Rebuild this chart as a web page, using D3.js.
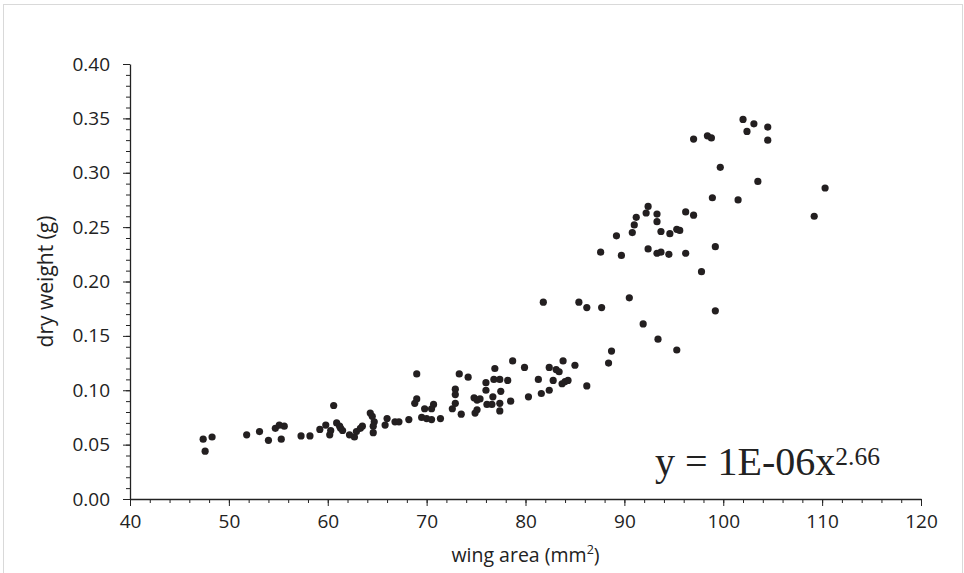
<!DOCTYPE html>
<html>
<head>
<meta charset="utf-8">
<script src="https://cdn.jsdelivr.net/npm/d3@7"></script>
<style>
  html, body { margin: 0; padding: 0; background: #fff; }
  svg { display: block; }
  .tick text { font-family: "Open Sans", sans-serif; font-size: 19px; fill: #222; }
  .axis-title { font-family: "Open Sans", sans-serif; fill: #222; }
  .equation { font-family: "Liberation Serif", "Times New Roman", serif; fill: #222; }
</style>
</head>
<body>
<div id="chart"></div>
<script>
// wing area (mm²) and dry weight (g)
const wingArea = [
  47.4, 48.3, 47.6, 51.8, 53.1, 54.0, 54.7, 55.1, 55.6, 55.3,
  57.3, 58.2, 59.2, 59.8, 60.3, 60.2, 60.6, 60.9, 61.2, 61.5,
  61.3, 62.2, 62.7, 62.9, 63.3, 63.5, 64.3, 64.5, 64.7, 64.6,
  64.6, 65.8, 66.0, 66.8, 67.2, 68.2,
  69.0, 69.0, 68.8, 69.8, 69.5, 70.0, 70.5, 70.7, 70.5, 71.4,
  72.9, 72.9, 72.9, 72.6, 73.3, 73.5, 74.2, 74.8, 75.1, 75.4,
  74.9, 75.1, 76.0, 76.0, 76.9, 76.8, 77.4, 78.2, 76.1, 76.6,
  76.7, 77.4, 77.5, 77.4, 78.5, 78.7, 79.9, 80.3, 81.3, 81.6,
  82.4, 82.4, 82.8, 83.1, 83.4, 83.8, 83.7, 84.0, 84.3, 85.0,
  86.2,
  81.8, 85.4, 86.2,
  87.6, 89.7, 92.4, 93.3, 93.7, 94.5, 96.2, 97.8, 99.2, 87.7,
  90.5, 91.9, 93.4, 95.3, 88.7, 88.4,
  99.2, 89.2, 90.8, 91.0, 91.2, 92.2, 92.4, 93.3, 93.3, 93.7,
  94.6, 95.3, 95.6, 96.2, 97.0, 98.9, 101.5, 99.7, 103.5, 109.2,
  97.0, 98.4, 98.8, 102.4, 104.5,
  102.0, 103.1, 104.5,
  110.3
];
const dryWeight = [
  0.055, 0.057, 0.044, 0.059, 0.062, 0.054, 0.065, 0.068, 0.067, 0.055,
  0.058, 0.058, 0.064, 0.068, 0.063, 0.059, 0.086, 0.070, 0.067, 0.063,
  0.065, 0.059, 0.057, 0.062, 0.065, 0.067, 0.079, 0.076, 0.071, 0.067,
  0.061, 0.068, 0.074, 0.071, 0.071, 0.073,
  0.115, 0.092, 0.088, 0.083, 0.075, 0.074, 0.073, 0.087, 0.083, 0.074,
  0.101, 0.096, 0.088, 0.083, 0.115, 0.078, 0.112, 0.093, 0.091, 0.092,
  0.079, 0.082, 0.107, 0.100, 0.120, 0.110, 0.110, 0.109, 0.087, 0.087,
  0.094, 0.088, 0.099, 0.081, 0.090, 0.127, 0.121, 0.094, 0.110, 0.097,
  0.121, 0.100, 0.109, 0.119, 0.117, 0.127, 0.106, 0.108, 0.109, 0.123,
  0.104,
  0.181, 0.181, 0.176,
  0.227, 0.224, 0.230, 0.226, 0.227, 0.225, 0.226, 0.209, 0.173, 0.176,
  0.185, 0.161, 0.147, 0.137, 0.136, 0.125,
  0.232, 0.242, 0.245, 0.252, 0.259, 0.263, 0.269, 0.262, 0.255, 0.246,
  0.244, 0.248, 0.247, 0.264, 0.261, 0.277, 0.275, 0.305, 0.292, 0.260,
  0.331, 0.334, 0.332, 0.338, 0.330,
  0.349, 0.345, 0.342,
  0.286
];

const xMajor = [40, 50, 60, 70, 80, 90, 100, 110, 120];
const yMajor = [0, 0.05, 0.10, 0.15, 0.20, 0.25, 0.30, 0.35, 0.40];
const xMinorStep = 2;
const yMinorStep = 0.01;

const points = wingArea.map((x, i) => ({ x, y: dryWeight[i] }));

const W = 964, H = 573;
const MARGIN = { top: 64, right: 43, bottom: 74, left: 130 };
const innerW = W - MARGIN.left - MARGIN.right;
const innerH = H - MARGIN.top - MARGIN.bottom;

const svg = d3.select("#chart").append("svg")
  .attr("width", W).attr("height", H);

// light frame around the figure
svg.append("rect")
  .attr("x", 3.5).attr("y", 4.5)
  .attr("width", W - 5).attr("height", H + 10)
  .attr("fill", "none").attr("stroke", "#d9d9d9");

const g = svg.append("g").attr("transform", `translate(${MARGIN.left},${MARGIN.top})`);

const x = d3.scaleLinear().domain([40, 120]).range([0, innerW]);
const y = d3.scaleLinear().domain([0, 0.4]).range([innerH, 0]);

// minor ticks
g.append("g")
  .attr("transform", `translate(0,${innerH})`)
  .call(d3.axisBottom(x).tickValues(d3.range(40, 120.01, xMinorStep)).tickSize(4).tickFormat(""))
  .call(a => a.select(".domain").remove())
  .selectAll("line").attr("stroke", "#222");

g.append("g")
  .call(d3.axisLeft(y).tickValues(d3.range(0, 40.01, yMinorStep * 100).map(v => v / 100)).tickSize(4).tickFormat(""))
  .call(a => a.select(".domain").remove())
  .selectAll("line").attr("stroke", "#222");

// major axes
const xAxis = g.append("g")
  .attr("transform", `translate(0,${innerH})`)
  .call(d3.axisBottom(x).tickValues(xMajor).tickSize(7).tickSizeOuter(0).tickPadding(9));
const yAxis = g.append("g")
  .call(d3.axisLeft(y).tickValues(yMajor).tickFormat(d3.format(".2f")).tickSize(7).tickSizeOuter(0).tickPadding(13));

[xAxis, yAxis].forEach(a => {
  a.select(".domain").attr("stroke", "#222").attr("stroke-width", 1.3);
  a.selectAll(".tick line").attr("stroke", "#222");
});

// points
g.selectAll("circle.pt")
  .data(points)
  .join("circle")
  .attr("class", "pt")
  .attr("cx", d => x(d.x))
  .attr("cy", d => y(d.y))
  .attr("r", 3.6)
  .attr("fill", "#231f20");

// axis titles
svg.append("text")
  .attr("class", "axis-title")
  .attr("font-size", 21)
  .attr("text-anchor", "middle")
  .attr("transform", `translate(46,${MARGIN.top + innerH / 2}) rotate(-90)`)
  .attr("dy", "0.35em")
  .text("dry weight (g)");

const xt = svg.append("text")
  .attr("class", "axis-title")
  .attr("font-size", 19.5)
  .attr("text-anchor", "middle")
  .attr("x", MARGIN.left + innerW / 2)
  .attr("y", 562);
xt.append("tspan").text("wing area (mm");
xt.append("tspan").attr("dy", -8).attr("font-size", 12.5).text("2");
xt.append("tspan").attr("dy", 8).text(")");

// fitted power law label
const eq = svg.append("text")
  .attr("class", "equation")
  .attr("x", 655)
  .attr("y", 475)
  .attr("font-size", 40);
eq.append("tspan").text("y = 1E-06x");
eq.append("tspan").attr("dy", -10).attr("font-size", 25.5).text("2.66");
</script>
</body>
</html>
